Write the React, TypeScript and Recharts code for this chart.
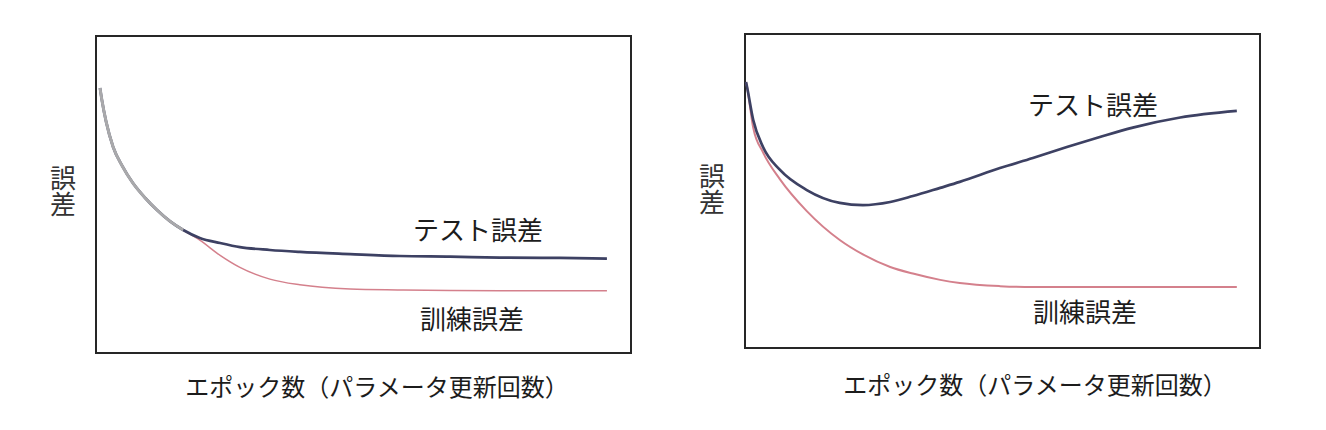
import React from 'react';
import { LineChart, Line, XAxis, YAxis, ReferenceArea } from 'recharts';

// ---- Left panel: good fit (test error plateaus) ----
const leftEpochs = [0.75, 1.1, 1.9, 3.2, 4.9, 6.9, 9.2, 11.4, 13.8, 16.3, 19.4, 23.2, 26.9, 32.5, 38.1, 47.5, 56.8, 66.2, 75.5, 86.7, 95.5];
const leftTest = [83.6, 79.8, 72.9, 65.0, 59.0, 53.6, 48.9, 45.1, 41.6, 38.8, 36.3, 34.7, 33.4, 32.5, 31.9, 31.2, 30.6, 30.4, 30.1, 30.0, 29.8];
const leftTrain = [83.6, 79.8, 72.9, 65.0, 59.0, 53.6, 48.9, 45.1, 41.6, 38.8, 35.6, 30.8, 27.0, 23.3, 21.5, 20.2, 19.9, 19.7, 19.6, 19.6, 19.6];
const leftShared = [83.6, 79.8, 72.9, 65.0, 59.0, 53.6, 48.9, 45.1, 41.6, 38.8];

// ---- Right panel: overfitting (test error rises) ----
const rightEpochs = [0.2, 0.4, 1.6, 3.5, 6.8, 12.0, 18.4, 22.9, 28.2, 32.6, 37.9, 41.7, 49.5, 55.9, 62.5, 68.9, 75.3, 84.5, 95.5];
const rightTest = [84.7, 83.1, 72.6, 64.0, 56.7, 50.3, 46.2, 45.5, 46.5, 48.4, 51.0, 52.9, 57.3, 60.5, 64.0, 67.2, 70.2, 73.4, 75.5];
const rightTrain = [84.7, 83.1, 70.1, 62.3, 53.7, 43.6, 34.4, 29.8, 25.8, 23.7, 21.7, 20.7, 19.7, 19.4, 19.4, 19.4, 19.4, 19.4, 19.4];

// ---- Text ----
const yLabel = '誤差';
const xLabel = 'エポック数（パラメータ更新回数）';
const testLabel = 'テスト誤差';
const trainLabel = '訓練誤差';

const leftData = leftEpochs.map((e, i) => ({
  epoch: e,
  test: leftTest[i],
  train: leftTrain[i],
  shared: i < leftShared.length ? leftShared[i] : undefined,
}));
const rightData = rightEpochs.map((e, i) => ({ epoch: e, test: rightTest[i], train: rightTrain[i] }));

const FONT = '"Noto Sans CJK JP", "Noto Sans", sans-serif';
const TEXT = '#1c1c1c';
const NAVY = '#3d4163';
const PINK = '#d4808c';

function Panel(props: {
  data: any[];
  margin: { top: number; left: number; right: number; bottom: number };
  shared?: boolean;
  testPos: [number, number];
  trainPos: [number, number];
  xLabelPos: [number, number];
  yLabelPos: [number, number];
  trainWidth: number;
}) {
  const { data, margin, shared, testPos, trainPos, xLabelPos, yLabelPos, trainWidth } = props;
  return (
    <LineChart width={663} height={430} data={data} margin={margin}>
      <XAxis dataKey="epoch" type="number" domain={[0, 100]} hide />
      <YAxis type="number" domain={[0, 100]} hide />
      <ReferenceArea x1={0} x2={100} y1={0} y2={100} fill="none" stroke="#262626" strokeWidth={2} fillOpacity={0} />
      <Line type="monotone" dataKey="train" stroke={PINK} strokeWidth={trainWidth} dot={false} isAnimationActive={false} />
      <Line type="monotone" dataKey="test" stroke={NAVY} strokeWidth={2.7} dot={false} isAnimationActive={false} />
      {shared ? (
        <Line type="monotone" dataKey="shared" stroke="#a9a9ab" strokeWidth={3} dot={false} isAnimationActive={false} connectNulls={false} />
      ) : null}
      <text x={testPos[0]} y={testPos[1]} dominantBaseline="central" fontFamily={FONT} fontSize={26} fill={TEXT}>{testLabel}</text>
      <text x={trainPos[0]} y={trainPos[1]} dominantBaseline="central" fontFamily={FONT} fontSize={26} fill={TEXT}>{trainLabel}</text>
      <text x={xLabelPos[0]} y={xLabelPos[1]} textAnchor="middle" dominantBaseline="central" fontFamily={FONT} fontSize={24} fill={TEXT}>{xLabel}</text>
      <text
        x={yLabelPos[0]}
        y={yLabelPos[1]}
        textAnchor="middle"
        fontFamily={FONT}
        fontSize={26}
        fill="#333"
        style={{ writingMode: 'vertical-rl', textOrientation: 'upright' } as any}
      >
        {yLabel}
      </text>
    </LineChart>
  );
}

export default function App() {
  return (
    <div style={{ position: 'absolute', left: 0, top: 0, width: 1326, height: 430, background: '#fff' }}>
      <div style={{ position: 'absolute', left: 0, top: 0 }}>
        <Panel
          data={leftData}
          margin={{ top: 36, left: 96, right: 32, bottom: 77 }}
          shared
          testPos={[413, 228]}
          trainPos={[420, 317]}
          xLabelPos={[377, 385]}
          yLabelPos={[63, 191]}
          trainWidth={1.5}
        />
      </div>
      <div style={{ position: 'absolute', left: 663, top: 0 }}>
        <Panel
          data={rightData}
          margin={{ top: 34, left: 82, right: 66, bottom: 82 }}
          testPos={[365, 103]}
          trainPos={[370, 310]}
          xLabelPos={[372, 383]}
          yLabelPos={[49, 189]}
          trainWidth={2}
        />
      </div>
    </div>
  );
}
